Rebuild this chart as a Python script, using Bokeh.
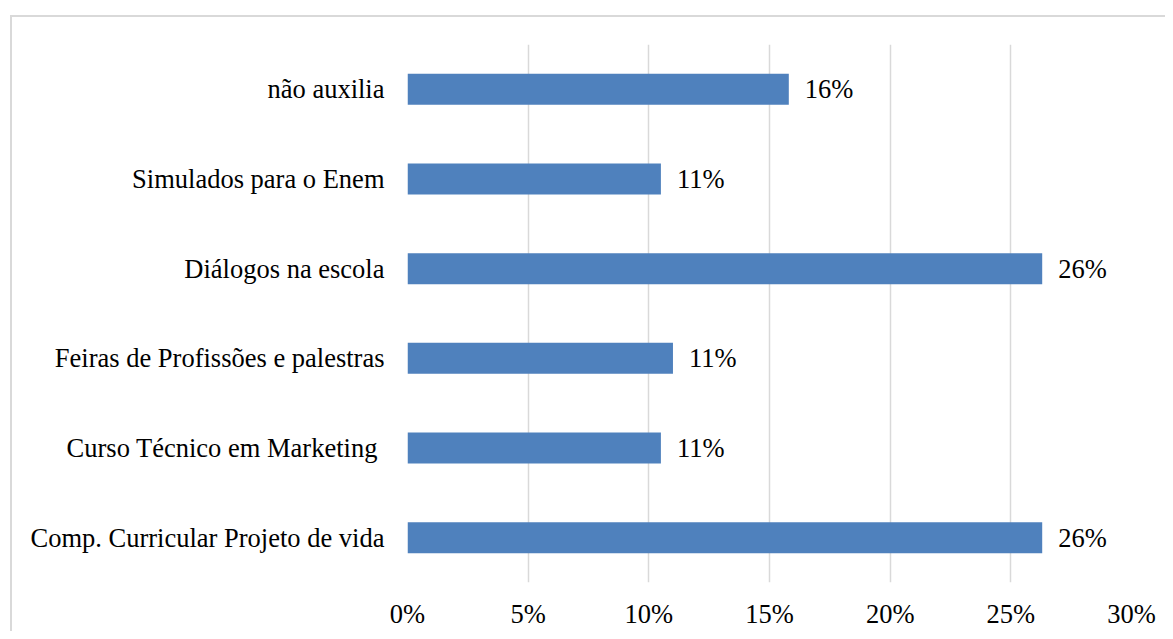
from bokeh.plotting import figure
from bokeh.models import FactorRange, Range1d, ColumnDataSource, FixedTicker, NumeralTickFormatter, InlineStyleSheet
from bokeh.core.properties import value
from bokeh.embed import file_html
from bokeh.resources import INLINE

categories = [
    "Comp. Curricular Projeto de vida",
    "Curso Técnico em Marketing ",
    "Feiras de Profissões e palestras",
    "Diálogos na escola",
    "Simulados para o Enem",
    "não auxilia",
]
values = [0.263, 0.105, 0.110, 0.263, 0.105, 0.158]
labels = ["26%", "11%", "11%", "26%", "11%", "16%"]
x_ticks = [0, 0.05, 0.10, 0.15, 0.20, 0.25, 0.30]

FONT = "Liberation Serif"
FS = "26.5px"

src = ColumnDataSource(dict(cat=categories, val=values, lab=labels))

css = InlineStyleSheet(css="""
:host::after {
  content: "";
  position: absolute;
  left: 10px;
  top: 15px;
  right: 0px;
  bottom: 0px;
  border-left: 2px solid #d9d9d9;
  border-top: 2px solid #d9d9d9;
  pointer-events: none;
  z-index: 10;
}
""")

p = figure(
    width=1165, height=631,
    y_range=FactorRange(factors=categories, range_padding=0),
    x_range=Range1d(0, 0.30),
    output_backend="svg", toolbar_location=None,
    min_border_left=407, min_border_right=34, min_border_top=44, min_border_bottom=47,
    stylesheets=[css],
)
p.outline_line_color = None

p.hbar(y="cat", right="val", left=0, height=0.345, source=src,
       fill_color="#4F81BD", line_color=None)

p.text(x="val", y="cat", text="lab", source=src, x_offset=16,
       text_baseline="middle", text_align="left",
       text_font=value(FONT), text_font_size=FS, text_color="#000000")

p.xaxis.ticker = FixedTicker(ticks=x_ticks)
p.xaxis.formatter = NumeralTickFormatter(format="0%")
p.xaxis.axis_line_color = None
p.xaxis.major_tick_line_color = None
p.xaxis.minor_tick_line_color = None
p.xaxis.major_tick_out = 0
p.xaxis.major_label_standoff = 16
p.xaxis.major_label_text_font = FONT
p.xaxis.major_label_text_font_size = FS
p.xaxis.major_label_text_color = "#000000"

p.yaxis.axis_line_color = None
p.yaxis.major_tick_line_color = None
p.yaxis.minor_tick_line_color = None
p.yaxis.major_tick_out = 0
p.yaxis.major_label_standoff = 23
p.yaxis.major_label_text_font = FONT
p.yaxis.major_label_text_font_size = FS
p.yaxis.major_label_text_color = "#000000"

p.xgrid.ticker = FixedTicker(ticks=x_ticks)
p.xgrid.grid_line_color = "#d9d9d9"
p.xgrid.grid_line_width = 1.5
p.ygrid.grid_line_color = None

open("out.html", "w").write(file_html(p, INLINE))
